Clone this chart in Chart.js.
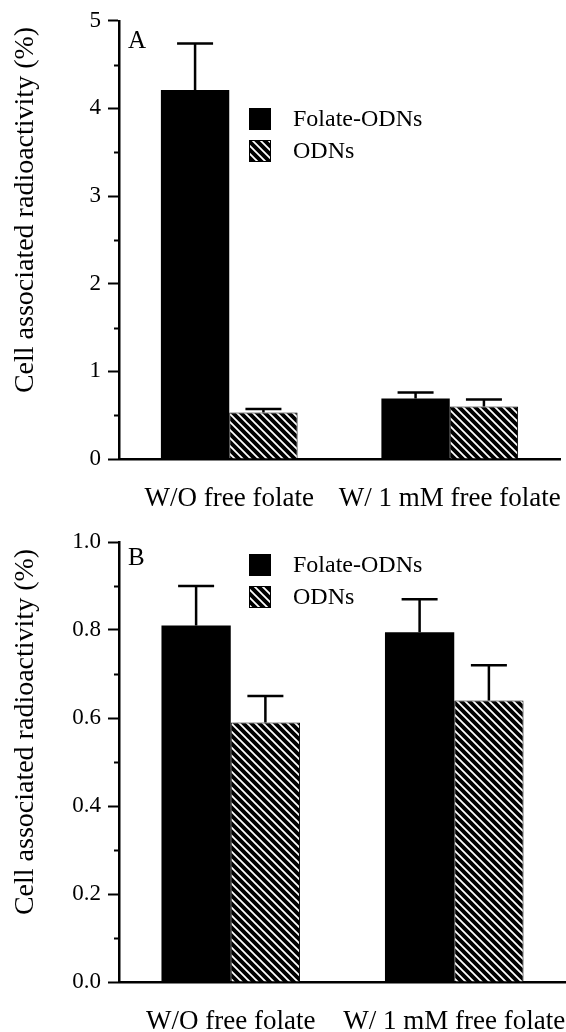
<!DOCTYPE html>
<html>
<head>
<meta charset="utf-8">
<script src="https://cdn.jsdelivr.net/npm/chart.js@4.4.1/dist/chart.umd.min.js"></script>
<style>
  body { margin: 0; background: #fff; }
  canvas { display: block; }
</style>
</head>
<body>
<canvas id="chartA" width="566" height="516"></canvas>
<canvas id="chartB" width="566" height="516"></canvas>
<script>
const categories = ['W/O free folate', 'W/ 1 mM free folate'];
const seriesNames = ['Folate-ODNs', 'ODNs'];
const yTitle = 'Cell associated radioactivity (%)';

// panel A
const folateA = [4.21, 0.69];
const folateErrA = [0.53, 0.07];
const odnA = [0.53, 0.60];
const odnErrA = [0.04, 0.08];
const yLabelsA = [0, 1, 2, 3, 4, 5];

// panel B
const folateB = [0.81, 0.795];
const folateErrB = [0.09, 0.075];
const odnB = [0.59, 0.64];
const odnErrB = [0.06, 0.08];
const yLabelsB = [0.0, 0.2, 0.4, 0.6, 0.8, 1.0];

const SERIF = "'Liberation Serif', 'Times New Roman', serif";
Chart.defaults.font.family = SERIF;
Chart.defaults.color = '#000';

function hatch(ctx) {
  const c = document.createElement('canvas');
  c.width = 8; c.height = 8;
  const g = c.getContext('2d');
  g.fillStyle = '#000';
  g.fillRect(0, 0, 8, 8);
  g.strokeStyle = '#fff';
  g.lineWidth = 1.8;
  g.beginPath();
  g.moveTo(-2, -2); g.lineTo(10, 10);
  g.moveTo(-2, 6); g.lineTo(2, 10);
  g.moveTo(6, -2); g.lineTo(10, 2);
  g.stroke();
  return ctx.createPattern(c, 'repeat');
}

function isMajor(v, labels) {
  return labels.some(l => Math.abs(l - v) < 1e-6);
}

// error bars (upper only), minor ticks, panel letter, y title, legend
const decor = {
  id: 'decor',
  afterDatasetsDraw(chart) {
    const ctx = chart.ctx, y = chart.scales.y;
    ctx.save();
    ctx.strokeStyle = '#000';
    ctx.lineWidth = 2.5;
    chart.data.datasets.forEach((ds, i) => {
      chart.getDatasetMeta(i).data.forEach((bar, j) => {
        const top = y.getPixelForValue(ds.data[j] + ds.errors[j]);
        ctx.beginPath();
        ctx.moveTo(bar.x, bar.y);
        ctx.lineTo(bar.x, top);
        ctx.moveTo(bar.x - 18, top);
        ctx.lineTo(bar.x + 18, top);
        ctx.stroke();
      });
    });
    ctx.restore();
  },
  afterDraw(chart, args, o) {
    const ctx = chart.ctx, y = chart.scales.y;
    ctx.save();
    // minor ticks
    ctx.strokeStyle = '#000';
    ctx.lineWidth = 2;
    y.ticks.forEach(t => {
      if (isMajor(t.value, o.labels)) return;
      const py = Math.round(y.getPixelForValue(t.value)) + 0.5;
      ctx.beginPath();
      ctx.moveTo(y.right - 5, py);
      ctx.lineTo(y.right, py);
      ctx.stroke();
    });
    // panel letter
    ctx.fillStyle = '#000';
    ctx.font = '25px ' + SERIF;
    ctx.textAlign = 'left';
    ctx.textBaseline = 'alphabetic';
    ctx.fillText(o.letter, 128, o.letterY);
    // y title
    ctx.save();
    ctx.translate(26, o.titleY);
    ctx.rotate(-Math.PI / 2);
    ctx.font = '28px ' + SERIF;
    ctx.textAlign = 'center';
    ctx.textBaseline = 'middle';
    ctx.fillText(yTitle, 0, 0);
    ctx.restore();
    // legend
    ctx.font = '24px ' + SERIF;
    ctx.textBaseline = 'middle';
    chart.data.datasets.forEach((ds, i) => {
      const by = o.legendY + i * 32;
      ctx.fillStyle = ds.backgroundColor;
      ctx.fillRect(249, by, 22, 22);
      ctx.strokeStyle = '#000';
      ctx.lineWidth = 1;
      ctx.strokeRect(249.5, by + 0.5, 21, 21);
      ctx.fillStyle = '#000';
      ctx.fillText(ds.label, 293, by + 12);
    });
    ctx.restore();
  }
};

function makeChart(id, folate, folateErr, odn, odnErr, yMax, step, labels, fmt, lay) {
  const ctx = document.getElementById(id).getContext('2d');
  return new Chart(ctx, {
    type: 'bar',
    data: {
      labels: categories,
      datasets: [
        {
          label: seriesNames[0],
          data: folate,
          errors: folateErr,
          backgroundColor: '#000',
          borderWidth: 0
        },
        {
          label: seriesNames[1],
          data: odn,
          errors: odnErr,
          backgroundColor: hatch(ctx),
          borderColor: '#000',
          borderWidth: 1
        }
      ]
    },
    options: {
      responsive: false,
      animation: false,
      layout: { padding: { top: lay.top, right: lay.right, left: 0, bottom: 0 } },
      datasets: { bar: { categoryPercentage: 0.62, barPercentage: 1.0 } },
      plugins: {
        legend: { display: false },
        tooltip: { enabled: false },
        decor: { labels: labels, letter: lay.letter, letterY: lay.letterY, titleY: lay.titleY, legendY: lay.legendY }
      },
      scales: {
        x: {
          grid: { display: false, drawTicks: false },
          border: { display: true, color: '#000', width: 2.5 },
          ticks: { font: { size: 27 }, padding: 24, maxRotation: 0, autoSkip: false },
          afterFit: s => { s.height = lay.xHeight; s.paddingLeft = 0; s.paddingRight = 0; }
        },
        y: {
          min: 0,
          max: yMax,
          grid: {
            drawOnChartArea: false,
            tickLength: 11,
            tickWidth: 2,
            tickColor: c => isMajor(c.tick.value, labels) ? '#000' : 'rgba(0,0,0,0)'
          },
          border: { display: true, color: '#000', width: 2.5 },
          ticks: {
            stepSize: step,
            padding: 7,
            font: { size: 23 },
            callback: v => isMajor(v, labels) ? fmt(v) : ''
          },
          afterFit: s => { s.width = 119; }
        }
      }
    },
    plugins: [decor]
  });
}

makeChart('chartA', folateA, folateErrA, odnA, odnErrA, 5, 0.5, yLabelsA, v => String(Math.round(v)),
  { top: 19, right: 6, xHeight: 57, letter: 'A', letterY: 48, titleY: 210, legendY: 108 });
makeChart('chartB', folateB, folateErrB, odnB, odnErrB, 1, 0.1, yLabelsB, v => v.toFixed(1),
  { top: 26, right: 0, xHeight: 50, letter: 'B', letterY: 49, titleY: 216, legendY: 38 });
</script>
</body>
</html>
